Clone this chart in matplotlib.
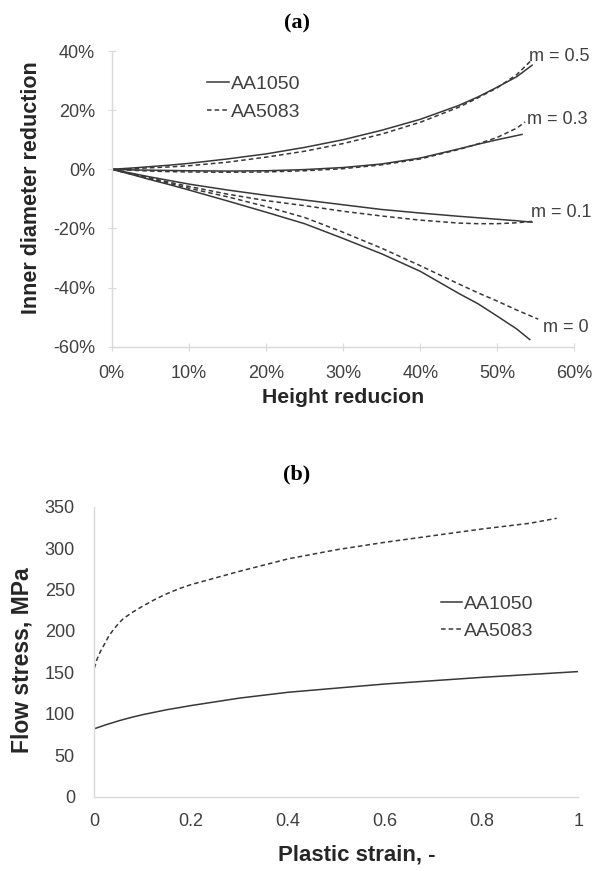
import numpy as np
import matplotlib
matplotlib.use("Agg")
import matplotlib.pyplot as plt
from matplotlib.ticker import FuncFormatter

plt.rcParams["font.family"] = ["Liberation Sans", "DejaVu Sans"]

# ---- (a) inner diameter reduction vs height reduction (%) ----
hr_grid = [0, 2.5, 5, 7.5, 10, 15, 20, 25, 30, 35, 40, 45, 47.5, 50, 52.5]

m05_aa1050_x = hr_grid + [54.5]
m05_aa1050_y = [0, 0.4, 0.9, 1.4, 2.0, 3.5, 5.2, 7.4, 10.0, 13.2, 16.9, 21.6, 24.5, 27.8, 31.3, 35.2]
m05_aa5083_x = hr_grid + [54.3]
m05_aa5083_y = [0, 0.2, 0.5, 0.8, 1.2, 2.4, 4.1, 6.1, 8.7, 11.9, 15.9, 21.0, 24.2, 27.6, 32.0, 36.6]

m03_aa1050_x = hr_grid + [53.2]
m03_aa1050_y = [0, -0.2, -0.3, -0.4, -0.5, -0.6, -0.5, -0.1, 0.6, 1.8, 3.8, 6.9, 8.5, 10.0, 11.4, 11.8]
m03_aa5083_x = hr_grid + [53.6]
m03_aa5083_y = [0, -0.3, -0.6, -0.8, -0.9, -1.0, -0.9, -0.5, 0.2, 1.5, 3.5, 6.7, 8.6, 10.8, 13.9, 16.0]

m01_aa1050_x = hr_grid + [54.5]
m01_aa1050_y = [0, -1.3, -2.6, -3.8, -5.0, -7.0, -8.8, -10.4, -12.0, -13.6, -14.8, -15.9, -16.4, -16.9, -17.4, -17.9]
m01_aa5083_x = hr_grid + [54.5]
m01_aa5083_y = [0, -1.5, -3.0, -4.4, -5.8, -8.4, -10.6, -12.3, -14.2, -15.8, -17.2, -18.2, -18.4, -18.4, -18.1, -17.6]

m0_aa1050_x = hr_grid + [54.2]
m0_aa1050_y = [0, -1.7, -3.5, -5.2, -7.0, -10.7, -14.5, -18.4, -23.4, -28.6, -34.5, -42.0, -45.5, -49.7, -54.0, -57.6]
m0_aa5083_x = hr_grid + [55.3]
m0_aa5083_y = [0, -1.6, -3.2, -4.8, -6.4, -9.3, -12.6, -16.3, -21.3, -26.7, -32.6, -38.8, -41.8, -44.6, -47.6, -50.7]

m_labels = ["m = 0.5", "m = 0.3", "m = 0.1", "m = 0"]
m_label_x = [54.1, 53.8, 54.3, 55.9]
m_label_y = [38.3, 16.9, -14.6, -53.5]

# ---- (b) flow curves ----
strain_1050 = [0, 0.025, 0.05, 0.075, 0.1, 0.15, 0.2, 0.3, 0.4, 0.5, 0.6, 0.7, 0.8, 0.9, 1.0]
stress_1050 = [82, 87, 91.5, 95.5, 99, 105, 110, 119, 126, 131, 136, 140, 144, 147.5, 151]
strain_5083 = [0, 0.005, 0.01, 0.015, 0.02, 0.03, 0.04, 0.05, 0.06, 0.08, 0.1, 0.125, 0.15,
               0.175, 0.2, 0.25, 0.3, 0.4, 0.5, 0.6, 0.7, 0.8, 0.9, 0.955]
stress_5083 = [155, 165, 172, 178, 183, 194, 202, 209, 215, 223, 230, 238, 245,
               251, 256, 264, 272, 287, 298, 307, 315, 323, 330, 336]

LINE = "#383838"
SPINE = "#d9d9d9"
TXT = "#404040"
DASH = (3, 2)

fig = plt.figure(figsize=(5.97, 8.71), dpi=100)

# ── panel (a) ──
ax = fig.add_axes([0.1871, 0.6020, 0.7752, 0.3394])
curves = [(m05_aa1050_x, m05_aa1050_y, m05_aa5083_x, m05_aa5083_y),
          (m03_aa1050_x, m03_aa1050_y, m03_aa5083_x, m03_aa5083_y),
          (m01_aa1050_x, m01_aa1050_y, m01_aa5083_x, m01_aa5083_y),
          (m0_aa1050_x, m0_aa1050_y, m0_aa5083_x, m0_aa5083_y)]
for i, (xs, ys, xd, yd) in enumerate(curves):
    ax.plot(xs, ys, color=LINE, lw=1.1, label="AA1050" if i == 0 else None)
    ax.plot(xd, yd, color=LINE, lw=1.1, dashes=DASH, label="AA5083" if i == 0 else None)
for lab, lx, ly in zip(m_labels, m_label_x, m_label_y):
    ax.text(lx, ly, lab, fontsize=13, color=TXT, va="center", ha="left", clip_on=False)

ax.set_xlim(0, 60); ax.set_ylim(-60, 40)
ax.set_xticks(range(0, 61, 10)); ax.set_yticks(range(-60, 41, 20))
pct = FuncFormatter(lambda v, p: f"{v:.0f}%")
ax.xaxis.set_major_formatter(pct); ax.yaxis.set_major_formatter(pct)
ax.spines[["top", "right"]].set_visible(False)
for s in ["left", "bottom"]:
    ax.spines[s].set_color(SPINE); ax.spines[s].set_linewidth(1.0)
ax.tick_params(axis="both", direction="inout", length=6, color=SPINE,
               labelsize=13, labelcolor=TXT)
ax.tick_params(axis="y", pad=9)
ax.tick_params(axis="x", pad=10)
ax.legend(loc="upper left", bbox_to_anchor=(0.19, 0.945), frameon=False,
          fontsize=14, handlelength=1.1, handletextpad=0.1, labelspacing=0.55,
          labelcolor=TXT, borderaxespad=0)
fig.text(343.5 / 597, 1 - 397 / 871, "Height reducion", fontsize=15.3,
         fontweight="bold", color="#262626", ha="center", va="center")
fig.text(32 / 597, 1 - 187.5 / 871, "Inner diameter reduction", fontsize=15.5,
         fontweight="bold", color="#262626", ha="center", va="center", rotation=90)
fig.text(297 / 597, 1 - 23 / 871, "(a)", fontsize=16, fontweight="bold",
         family="Liberation Serif", ha="center", va="center")

# ── panel (b) ──
bx = fig.add_axes([0.158, 0.0853, 0.811, 0.333])
bx.plot(strain_1050, stress_1050, color=LINE, lw=1.1, label="AA1050")
bx.plot(strain_5083, stress_5083, color=LINE, lw=1.1, dashes=DASH, label="AA5083")
bx.set_xlim(0, 1); bx.set_ylim(0, 350)
bx.set_xticks([0, 0.2, 0.4, 0.6, 0.8, 1.0])
bx.set_xticklabels(["0", "0.2", "0.4", "0.6", "0.8", "1"])
bx.set_yticks(range(0, 351, 50))
bx.spines[["top", "right"]].set_visible(False)
for s in ["left", "bottom"]:
    bx.spines[s].set_color(SPINE); bx.spines[s].set_linewidth(1.0)
bx.tick_params(axis="both", length=0, labelsize=13, labelcolor=TXT)
bx.tick_params(axis="y", pad=14)
bx.tick_params(axis="x", pad=12)
bx.legend(loc="upper left", bbox_to_anchor=(0.70, 0.72), frameon=False,
          fontsize=14, handlelength=1.1, handletextpad=0.1, labelspacing=0.45,
          labelcolor=TXT, borderaxespad=0)
fig.text(357 / 597, 1 - 855 / 871, "Plastic strain, -", fontsize=16,
         fontweight="bold", color="#262626", ha="center", va="center")
fig.text(21.7 / 597, 1 - 660 / 871, "Flow stress, MPa", fontsize=16.5,
         fontweight="bold", color="#262626", ha="center", va="center", rotation=90)
fig.text(297 / 597, 1 - 474 / 871, "(b)", fontsize=16, fontweight="bold",
         family="Liberation Serif", ha="center", va="center")

fig.savefig("out.png", dpi=100)
